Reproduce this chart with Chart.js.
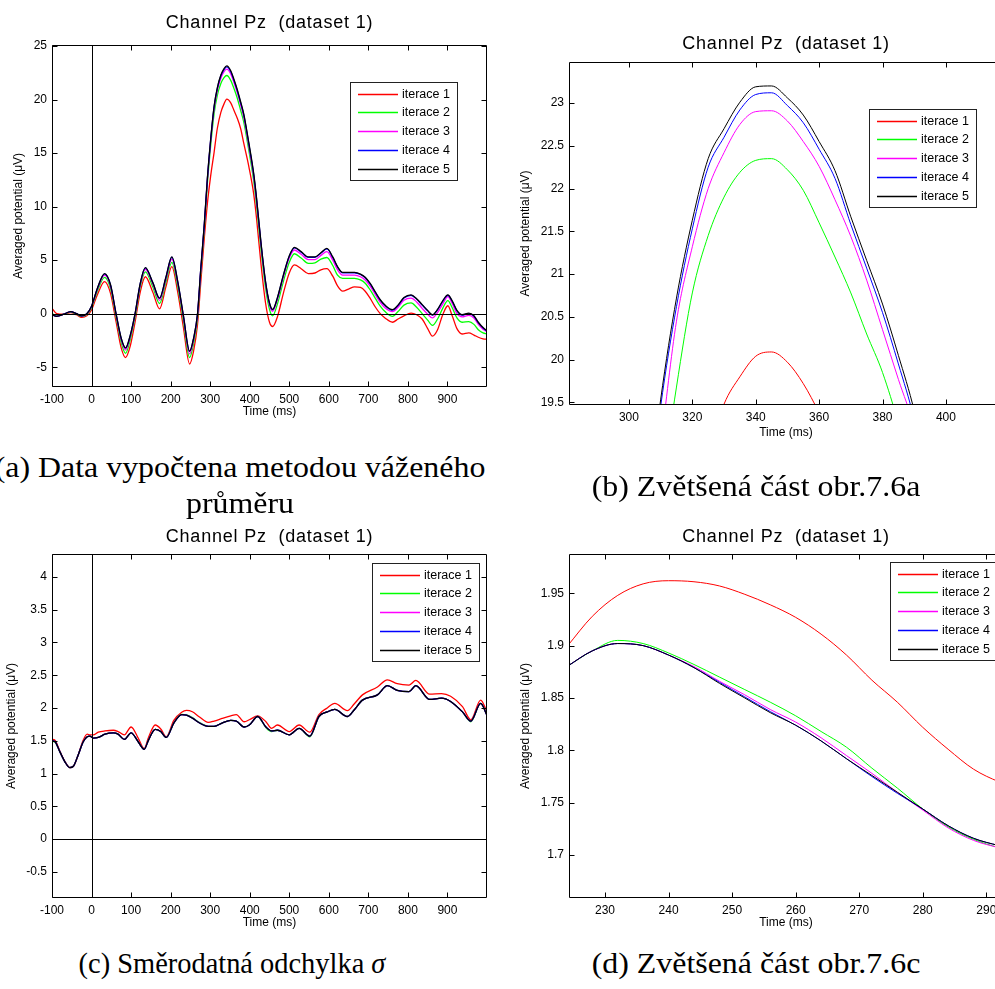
<!DOCTYPE html>
<html>
<head>
<meta charset="utf-8">
<title>Channel Pz (dataset 1)</title>
<script src="https://cdn.jsdelivr.net/npm/chart.js@4.4.1/dist/chart.umd.min.js"></script>
<style>
  html, body { margin: 0; padding: 0; background: #fff; }
  body { position: relative; width: 995px; height: 989px; overflow: hidden; }
  canvas { position: absolute; }
  .popisek {
    position: absolute; width: 600px; text-align: center; white-space: nowrap;
    font-family: 'Liberation Serif', 'Times New Roman', serif; font-size: 29px; line-height: 34px;
    color: #000; transform: scaleX(1.1);
  }
</style>
</head>
<body>
<canvas id="grafA" width="500" height="425" style="left:0;top:0"></canvas>
<canvas id="grafB" width="520" height="445" style="left:500px;top:0"></canvas>
<canvas id="grafC" width="500" height="426" style="left:0;top:510px"></canvas>
<canvas id="grafD" width="520" height="426" style="left:500px;top:510px"></canvas>

<div class="popisek" style="left:-60px;top:450px">(a) Data vypočtena metodou váženého</div>
<div class="popisek" style="left:-60px;top:486px">průměru</div>
<div class="popisek" style="left:456px;top:469px">(b) Zvětšená část obr.7.6a</div>
<div class="popisek" style="left:-68px;top:946px;transform:scaleX(0.98)">(c) Směrodatná odchylka <i>σ</i></div>
<div class="popisek" style="left:456px;top:946px">(d) Zvětšená část obr.7.6c</div>

<script>
// Nazvy iteraci a barvy (jako v MATLABu)
const nazvy = ['iterace 1', 'iterace 2', 'iterace 3', 'iterace 4', 'iterace 5'];
const barvy = ['#ff0000', '#00ff00', '#ff00ff', '#0000ff', '#000000'];
const nadpis = 'Channel Pz  (dataset 1)';

// (a) prumer - cely zaznam
const casA = [-100, -88, -70, -53, -38, -25, -12, 0, 15, 33,
  48, 62, 75, 86, 98, 110, 123, 136, 155, 172,
  188, 203, 218, 232, 248, 258, 268, 276, 285, 293,
  301, 310, 318, 327, 335, 342, 352, 360, 368, 377,
  385, 398, 410, 417, 428, 440, 450, 458, 470, 485,
  500, 513, 530, 548, 565, 580, 595, 610, 622, 635,
  650, 665, 680, 692, 705, 718, 730, 742, 761, 775,
  790, 808, 822, 836, 850, 862, 875, 888, 901, 912,
  924, 937, 954, 967, 978, 990, 1000];
const prumerA1 = [0.5, 0.0, -0.05, 0.1, -0.1, -0.35, -0.2, 0.35, 1.8, 3.0,
  1.9, -0.75, -3.2, -4.1, -3.0, -0.8, 2.0, 3.45, 2.0, 0.45,
  2.5, 4.4, 2.0, -1.2, -4.7, -3.5, -1.0, 2.8, 7.0, 10.3,
  12.8, 15.1, 17.3, 18.8, 19.6, 20.05, 19.7, 19.0, 18.3, 17.3,
  15.9, 13.7, 11.2, 9.0, 4.8, 1.0, -0.8, -1.2, -0.3, 1.9,
  3.8, 4.55, 4.2, 3.75, 3.8, 4.1, 4.2, 3.5, 2.6, 2.1,
  2.3, 2.5, 2.45, 2.1, 1.4, 0.6, 0.0, -0.4, -0.8, -0.5,
  -0.2, 0.05, -0.1, -0.5, -1.4, -2.1, -1.5, -0.1, 0.74, -0.2,
  -1.4, -1.9, -1.8, -2.0, -2.2, -2.35, -2.4];
const prumerA2 = [0.0, -0.2, -0.05, 0.15, -0.05, -0.25, -0.1, 0.55, 2.15, 3.4,
  2.35, -0.3, -2.7, -3.7, -2.4, -0.35, 2.45, 3.9, 2.5, 0.95,
  2.95, 4.8, 2.5, -0.6, -4.1, -2.8, -0.4, 3.7, 7.9, 12.2,
  15.6, 18.7, 20.4, 21.5, 22.05, 22.25, 21.8, 21.05, 20.2, 19.0,
  17.9, 15.2, 12.4, 10.2, 6.2, 2.4, 0.4, -0.2, 0.9, 3.0,
  4.8, 5.6, 5.2, 4.7, 4.75, 5.1, 5.25, 4.5, 3.6, 3.3,
  3.3, 3.3, 3.15, 2.85, 2.2, 1.4, 0.7, 0.2, -0.25, 0.2,
  0.8, 1.0, 0.6, 0.0, -0.6, -1.1, -0.5, 0.5, 1.22, 0.55,
  -0.4, -0.8, -0.75, -1.0, -1.5, -1.8, -1.9];
const prumerA3 = [-0.05, -0.25, -0.05, 0.2, -0.02, -0.22, -0.05, 0.65, 2.3, 3.6,
  2.55, -0.12, -2.45, -3.4, -2.15, -0.15, 2.65, 4.15, 2.75, 1.25,
  3.2, 5.1, 2.8, -0.3, -3.75, -2.5, -0.15, 3.95, 8.15, 12.5,
  16.0, 19.15, 20.85, 22.0, 22.6, 22.85, 22.4, 21.6, 20.7, 19.5,
  18.35, 15.6, 12.8, 10.6, 6.6, 2.8, 0.8, 0.22, 1.3, 3.4,
  5.2, 5.95, 5.55, 5.05, 5.05, 5.45, 5.8, 5.0, 4.1, 3.6,
  3.6, 3.6, 3.45, 3.15, 2.55, 1.75, 1.05, 0.55, 0.2, 0.6,
  1.25, 1.45, 1.1, 0.5, -0.05, -0.4, 0.1, 0.9, 1.6, 0.95,
  0.0, -0.3, -0.15, -0.4, -1.0, -1.45, -1.7];
const prumerA4 = [-0.1, -0.25, -0.05, 0.2, 0.0, -0.2, 0.0, 0.7, 2.38, 3.72,
  2.68, -0.02, -2.32, -3.22, -2.02, -0.02, 2.78, 4.27, 2.88, 1.43,
  3.38, 5.28, 2.98, -0.12, -3.52, -2.32, -0.02, 4.08, 8.27, 12.65,
  16.15, 19.35, 21.03, 22.22, 22.8, 23.05, 22.6, 21.8, 20.9, 19.7,
  18.55, 15.8, 13.0, 10.8, 6.75, 2.95, 0.95, 0.36, 1.46, 3.56,
  5.36, 6.15, 5.75, 5.26, 5.26, 5.66, 6.05, 5.25, 4.36, 3.81,
  3.81, 3.81, 3.66, 3.36, 2.76, 1.96, 1.26, 0.76, 0.33, 0.76,
  1.46, 1.71, 1.36, 0.81, 0.26, -0.14, 0.36, 1.16, 1.71, 1.16,
  0.26, -0.14, 0.01, -0.24, -0.84, -1.34, -1.64];
const prumerA5 = [-0.1, -0.25, -0.05, 0.2, 0.0, -0.2, 0.0, 0.7, 2.4, 3.75,
  2.7, 0.0, -2.3, -3.2, -2.0, 0.0, 2.8, 4.3, 2.9, 1.45,
  3.4, 5.3, 3.0, -0.1, -3.5, -2.3, 0.0, 4.1, 8.3, 12.7,
  16.2, 19.4, 21.1, 22.3, 22.9, 23.15, 22.7, 21.9, 21.0, 19.8,
  18.65, 15.9, 13.1, 10.9, 6.8, 3.0, 1.0, 0.4, 1.5, 3.6,
  5.4, 6.2, 5.8, 5.3, 5.3, 5.7, 6.1, 5.3, 4.4, 3.85,
  3.85, 3.85, 3.7, 3.4, 2.8, 2.0, 1.3, 0.8, 0.37, 0.8,
  1.5, 1.75, 1.4, 0.85, 0.3, -0.1, 0.4, 1.2, 1.75, 1.2,
  0.3, -0.1, 0.05, -0.2, -0.8, -1.3, -1.6];

// (b) detail vrcholu kolem 340 ms
const casB = [300, 305, 310, 315, 320, 325, 330, 335, 340, 345, 350,
  355, 360, 365, 370, 375, 380, 385, 390, 395, 400];
const prumerB1 = [13.2, 14.7, 16.0, 17.2, 18.2, 18.9, 19.48, 19.8, 20.04, 20.09, 19.97,
  19.72, 19.38, 19.0, 18.6, 18.1, 17.5, 16.8, 16.0, 15.0, 13.9];
const prumerB2 = [15.2, 17.0, 18.4, 19.68, 20.78, 21.45, 21.9, 22.19, 22.33, 22.35, 22.22,
  21.98, 21.6, 21.2, 20.78, 20.3, 19.85, 19.25, 18.5, 17.6, 16.3];
const prumerB3 = [15.7, 17.6, 19.0, 20.45, 21.32, 22.0, 22.42, 22.75, 22.9, 22.91, 22.79,
  22.55, 22.26, 21.87, 21.44, 20.93, 20.35, 19.77, 19.2, 18.3, 17.0];
const prumerB4 = [16.2, 17.9, 19.45, 20.62, 21.53, 22.25, 22.6, 22.92, 23.1, 23.12, 22.97,
  22.77, 22.46, 22.12, 21.58, 21.07, 20.55, 19.95, 19.3, 18.4, 17.1];
const prumerB5 = [16.3, 18.0, 19.53, 20.72, 21.63, 22.35, 22.7, 23.01, 23.19, 23.2, 23.06,
  22.86, 22.55, 22.21, 21.67, 21.16, 20.65, 20.05, 19.4, 18.5, 17.2];

// (c) smerodatna odchylka - cely zaznam
const casC = [-100, -93, -80, -67, -55, -46, -34, -21, -11, -4,
  4, 17, 34, 55, 67, 83, 100, 118, 133, 144,
  161, 175, 189, 208, 228, 240, 255, 272, 295, 310,
  330, 352, 366, 386, 399, 420, 441, 455, 470, 500,
  525, 552, 575, 596, 615, 647, 664, 685, 723, 748,
  773, 803, 820, 855, 885, 908, 938, 959, 984, 1000];
const odchylkaC1 = [1.52, 1.51, 1.34, 1.18, 1.09, 1.11, 1.28, 1.51, 1.6, 1.59,
  1.59, 1.63, 1.65, 1.66, 1.64, 1.59, 1.71, 1.54, 1.38, 1.55,
  1.74, 1.68, 1.56, 1.81, 1.935, 1.962, 1.942, 1.867, 1.78, 1.8,
  1.84, 1.88, 1.9, 1.79, 1.82, 1.88, 1.79, 1.69, 1.74, 1.64,
  1.74, 1.63, 1.9, 2.0, 2.07, 1.96, 2.06, 2.2, 2.32, 2.43,
  2.37, 2.35, 2.42, 2.21, 2.22, 2.18, 2.02, 1.82, 2.12, 1.94];
const odchylkaC2 = [1.49, 1.48, 1.33, 1.175, 1.09, 1.11, 1.28, 1.485, 1.56, 1.57,
  1.54, 1.55, 1.6, 1.62, 1.6, 1.52, 1.62, 1.485, 1.37, 1.51,
  1.675, 1.64, 1.55, 1.77, 1.903, 1.893, 1.852, 1.782, 1.72, 1.72,
  1.77, 1.81, 1.8, 1.71, 1.74, 1.87, 1.7, 1.64, 1.66, 1.59,
  1.69, 1.56, 1.87, 1.94, 1.98, 1.87, 1.97, 2.12, 2.2, 2.34,
  2.27, 2.25, 2.34, 2.13, 2.15, 2.1, 1.94, 1.79, 2.07, 1.89];
const odchylkaC3 = [1.5, 1.49, 1.33, 1.175, 1.09, 1.11, 1.28, 1.485, 1.56, 1.57,
  1.54, 1.55, 1.6, 1.62, 1.6, 1.52, 1.62, 1.485, 1.37, 1.51,
  1.675, 1.64, 1.55, 1.77, 1.9, 1.891, 1.847, 1.778, 1.72, 1.72,
  1.77, 1.81, 1.8, 1.71, 1.74, 1.87, 1.71, 1.65, 1.66, 1.59,
  1.69, 1.57, 1.87, 1.94, 1.98, 1.87, 1.97, 2.12, 2.2, 2.34,
  2.27, 2.25, 2.34, 2.13, 2.15, 2.1, 1.94, 1.8, 2.07, 1.89];
const odchylkaC4 = [1.5, 1.49, 1.33, 1.175, 1.09, 1.11, 1.28, 1.485, 1.56, 1.57,
  1.54, 1.55, 1.6, 1.62, 1.6, 1.52, 1.62, 1.485, 1.37, 1.51,
  1.675, 1.64, 1.55, 1.77, 1.9, 1.891, 1.845, 1.775, 1.72, 1.72,
  1.77, 1.81, 1.8, 1.71, 1.74, 1.87, 1.71, 1.65, 1.66, 1.59,
  1.69, 1.57, 1.87, 1.94, 1.98, 1.87, 1.97, 2.12, 2.2, 2.34,
  2.27, 2.25, 2.34, 2.13, 2.15, 2.1, 1.94, 1.8, 2.07, 1.89];
const odchylkaC5 = [1.5, 1.49, 1.33, 1.175, 1.09, 1.11, 1.28, 1.485, 1.56, 1.57,
  1.54, 1.55, 1.6, 1.62, 1.6, 1.52, 1.62, 1.485, 1.37, 1.51,
  1.675, 1.64, 1.55, 1.77, 1.9, 1.891, 1.845, 1.775, 1.72, 1.72,
  1.77, 1.81, 1.8, 1.71, 1.74, 1.87, 1.71, 1.65, 1.66, 1.59,
  1.69, 1.57, 1.87, 1.94, 1.98, 1.87, 1.97, 2.12, 2.2, 2.34,
  2.27, 2.25, 2.34, 2.13, 2.15, 2.1, 1.94, 1.8, 2.07, 1.89];

// (d) detail odchylky 224-293 ms
const casD = [224, 228, 232, 236, 240, 244, 248, 252, 256, 260,
  264, 268, 272, 276, 280, 284, 288, 292, 294];
const odchylkaD1 = [1.899, 1.928, 1.948, 1.959, 1.962, 1.961, 1.957, 1.949, 1.939, 1.927,
  1.911, 1.891, 1.867, 1.846, 1.822, 1.801, 1.782, 1.770, 1.766];
const odchylkaD2 = [1.880, 1.895, 1.905, 1.902, 1.893, 1.882, 1.870, 1.858, 1.846, 1.833,
  1.818, 1.803, 1.783, 1.764, 1.744, 1.727, 1.715, 1.707, 1.704];
const odchylkaD3 = [1.880, 1.895, 1.902, 1.900, 1.891, 1.880, 1.866, 1.853, 1.839, 1.827,
  1.812, 1.795, 1.778, 1.760, 1.743, 1.726, 1.714, 1.707, 1.704];
const odchylkaD4 = [1.880, 1.895, 1.902, 1.900, 1.891, 1.879, 1.865, 1.851, 1.837, 1.824,
  1.809, 1.792, 1.775, 1.759, 1.744, 1.728, 1.716, 1.709, 1.706];
const odchylkaD5 = [1.880, 1.895, 1.902, 1.900, 1.891, 1.879, 1.864, 1.850, 1.836, 1.824,
  1.809, 1.792, 1.776, 1.760, 1.744, 1.728, 1.716, 1.709, 1.706];

// Popisky os (hodnoty tiku)
const tikyCasCely = [-100, 0, 100, 200, 300, 400, 500, 600, 700, 800, 900];
const tikyA = [-5, 0, 5, 10, 15, 20, 25];
const tikyCasB = [300, 320, 340, 360, 380, 400];
const tikyB = [19.5, 20, 20.5, 21, 21.5, 22, 22.5, 23];
const tikyC = [-0.5, 0, 0.5, 1, 1.5, 2, 2.5, 3, 3.5, 4];
const tikyCasD = [230, 240, 250, 260, 270, 280, 290];
const tikyD = [1.7, 1.75, 1.8, 1.85, 1.9, 1.95];

const PISMO = "'Liberation Sans', Arial, Helvetica, sans-serif";

// Nadpis, ramecek, tiky dovnitr, nulove osy a legenda ve stylu MATLABu
const matlabOsy = {
    id: 'matlabOsy',
    afterDatasetsDraw(chart, args, opts) {
        const { ctx, chartArea: a, scales: { x, y } } = chart;
        const L = Math.round(a.left) + 0.5, R = Math.round(a.right) - 0.5;
        const T = Math.round(a.top) + 0.5, B = Math.round(a.bottom) - 0.5;
        ctx.save();
        ctx.strokeStyle = '#000';
        ctx.lineWidth = 1;
        ctx.beginPath();
        if (opts.nula) {
            const x0 = Math.round(x.getPixelForValue(0)) + 0.5;
            const y0 = Math.round(y.getPixelForValue(0)) + 0.5;
            ctx.moveTo(x0, T); ctx.lineTo(x0, B);
            ctx.moveTo(L, y0); ctx.lineTo(R, y0);
        }
        x.ticks.forEach(t => {
            const px = Math.round(x.getPixelForValue(t.value)) + 0.5;
            ctx.moveTo(px, B); ctx.lineTo(px, B - 5);
            ctx.moveTo(px, T); ctx.lineTo(px, T + 5);
        });
        y.ticks.forEach(t => {
            const py = Math.round(y.getPixelForValue(t.value)) + 0.5;
            ctx.moveTo(L, py); ctx.lineTo(L + 5, py);
            ctx.moveTo(R, py); ctx.lineTo(R - 5, py);
        });
        ctx.rect(L, T, R - L, B - T);
        ctx.stroke();

        // nadpis nad stredem grafu
        ctx.fillStyle = '#000';
        ctx.font = '18px ' + PISMO;
        ctx.letterSpacing = '0.8px';
        ctx.textAlign = 'center';
        ctx.textBaseline = 'middle';
        ctx.fillText(nadpis, (a.left + a.right) / 2, opts.nadpisY);
        ctx.letterSpacing = '0px';

        // legenda uvnitr grafu
        const lg = opts.legenda;
        ctx.fillStyle = '#fff';
        ctx.fillRect(lg.x, lg.y, 108, 98);
        ctx.strokeStyle = '#222';
        ctx.strokeRect(lg.x + 0.5, lg.y + 0.5, 107, 98);
        ctx.font = '12.5px ' + PISMO;
        ctx.textAlign = 'left';
        ctx.lineWidth = 1.3;
        nazvy.forEach((nazev, i) => {
            const ry = Math.round(lg.y + 11.6 + i * 18.75) + 0.5;
            ctx.strokeStyle = barvy[i];
            ctx.beginPath();
            ctx.moveTo(lg.x + 8, ry); ctx.lineTo(lg.x + 48, ry);
            ctx.stroke();
            ctx.fillStyle = '#000';
            ctx.fillText(nazev, lg.x + 52, ry);
        });
        ctx.restore();
    }
};

function vytvorGraf(id, casy, rady, n) {
    return new Chart(document.getElementById(id), {
        type: 'line',
        data: {
            datasets: rady.map((hodnoty, i) => ({
                label: nazvy[i],
                data: casy.map((t, j) => ({ x: t, y: hodnoty[j] })),
                borderColor: barvy[i],
                borderWidth: n.tloustka,
                pointRadius: 0,
                cubicInterpolationMode: 'monotone',
                clip: 0,
                order: rady.length - i
            }))
        },
        options: {
            responsive: false,
            animation: false,
            events: [],
            layout: { padding: { left: 0, top: n.nahore, right: n.vpravo, bottom: 0 } },
            plugins: {
                legend: { display: false },
                tooltip: { enabled: false },
                title: { display: false },
                matlabOsy: { nula: n.nula, legenda: n.legenda, nadpisY: n.nadpisY }
            },
            scales: {
                x: {
                    type: 'linear',
                    min: n.osaX[0],
                    max: n.osaX[1],
                    afterBuildTicks: s => { s.ticks = n.tikyX.map(v => ({ value: v })); },
                    afterFit: s => { s.height = n.vyskaX; },
                    grid: { display: false, drawTicks: false },
                    border: { display: false },
                    ticks: {
                        color: '#000', font: { family: PISMO, size: 12 }, padding: 5,
                        maxRotation: 0, autoSkip: false, callback: v => String(v)
                    },
                    title: {
                        display: true, text: 'Time (ms)', color: '#000',
                        font: { family: PISMO, size: 12 }, padding: { top: 0, bottom: n.padCas }
                    }
                },
                y: {
                    type: 'linear',
                    min: n.osaY[0],
                    max: n.osaY[1],
                    afterBuildTicks: s => { s.ticks = n.tikyY.map(v => ({ value: v })); },
                    afterFit: s => { s.width = n.sirkaY; },
                    grid: { display: false, drawTicks: false },
                    border: { display: false },
                    ticks: {
                        color: '#000', font: { family: PISMO, size: 12 }, padding: 5,
                        autoSkip: false, callback: v => String(v)
                    },
                    title: {
                        display: true, text: 'Averaged potential (μV)', color: '#000',
                        font: { family: PISMO, size: 12 }, padding: { top: n.padPotencial, bottom: 0 }
                    }
                }
            }
        },
        plugins: [matlabOsy]
    });
}

document.addEventListener('DOMContentLoaded', function () {
    vytvorGraf('grafA', casA, [prumerA1, prumerA2, prumerA3, prumerA4, prumerA5], {
        osaX: [-100, 1000], osaY: [-6.85, 25.1], tikyX: tikyCasCely, tikyY: tikyA,
        sirkaY: 52, vyskaX: 38, vpravo: 13, nahore: 45, nadpisY: 23,
        padCas: 5.8, padPotencial: 11.8, legenda: { x: 350, y: 82 }, nula: true, tloustka: 1.3
    });
    vytvorGraf('grafB', casB, [prumerB1, prumerB2, prumerB3, prumerB4, prumerB5], {
        osaX: [281.1, 418], osaY: [19.47, 23.48], tikyX: tikyCasB, tikyY: tikyB,
        sirkaY: 69, vyskaX: 40, vpravo: 17, nahore: 62, nadpisY: 44,
        padCas: 4.8, padPotencial: 18.8, legenda: { x: 369, y: 109 }, nula: false, tloustka: 1
    });
    vytvorGraf('grafC', casC, [odchylkaC1, odchylkaC2, odchylkaC3, odchylkaC4, odchylkaC5], {
        osaX: [-100, 1000], osaY: [-0.9, 4.35], tikyX: tikyCasCely, tikyY: tikyC,
        sirkaY: 52, vyskaX: 38, vpravo: 13, nahore: 44, nadpisY: 27,
        padCas: 5.8, padPotencial: 4.8, legenda: { x: 372, y: 53 }, nula: true, tloustka: 1.3
    });
    vytvorGraf('grafD', casD, [odchylkaD1, odchylkaD2, odchylkaD3, odchylkaD4, odchylkaD5], {
        osaX: [224.33, 292.63], osaY: [1.659, 1.9875], tikyX: tikyCasD, tikyY: tikyD,
        sirkaY: 69, vyskaX: 38, vpravo: 17, nahore: 44, nadpisY: 27,
        padCas: 5.8, padPotencial: 18.8, legenda: { x: 390, y: 52 }, nula: false, tloustka: 1
    });
});
</script>
</body>
</html>
